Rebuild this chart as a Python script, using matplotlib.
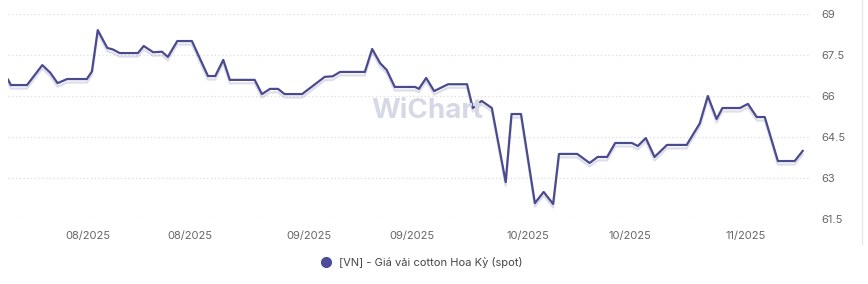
import matplotlib.pyplot as plt
import matplotlib.patheffects as pe
from matplotlib.lines import Line2D

# days since start of series (approx. 21/07/2025) and spot price
days = [0, 0.4, 2.6, 4.7, 5.8, 6.8, 8.1, 10.8, 11.5, 12.3, 13.6, 14.4, 15.3, 17.8,
        18.6, 19.9, 21.1, 21.9, 23.2, 25.2, 27.4, 28.4, 29.5, 30.4, 33.8, 34.8,
        35.9, 37.0, 37.9, 40.3, 43.4, 44.5, 45.5, 48.9, 49.9, 51.0, 51.9, 53.0,
        55.8, 56.3, 57.3, 58.4, 60.3, 62.9, 63.7, 64.9, 66.3, 68.2, 69.0, 70.3,
        72.2, 73.4, 74.7, 75.5, 78.0, 79.7, 80.8, 82.1, 83.2, 85.5, 86.3, 87.4,
        88.6, 90.3, 93.0, 94.8, 95.9, 97.1, 97.9, 100.3, 101.4, 102.6, 103.7,
        105.5, 107.8, 108.9]
price = [66.6, 66.4, 66.4, 67.13, 66.85, 66.47, 66.62, 66.62, 66.9, 68.41, 67.76,
         67.7, 67.57, 67.57, 67.83, 67.6, 67.62, 67.43, 68.01, 68.01, 66.73, 66.73,
         67.32, 66.59, 66.59, 66.07, 66.26, 66.26, 66.07, 66.07, 66.7, 66.72, 66.88,
         66.88, 67.72, 67.2, 66.95, 66.33, 66.33, 66.26, 66.66, 66.18, 66.43, 66.43,
         65.56, 65.82, 65.56, 62.85, 65.34, 65.34, 62.08, 62.49, 62.05, 63.88, 63.88,
         63.55, 63.77, 63.77, 64.28, 64.28, 64.17, 64.46, 63.77, 64.21, 64.21, 65.0,
         66.0, 65.16, 65.56, 65.56, 65.71, 65.23, 65.23, 63.62, 63.62, 63.99]

tick_days = [11.0, 24.9, 41.2, 55.3, 71.2, 85.2, 101.1]
tick_labels = ["08/2025", "08/2025", "09/2025", "09/2025", "10/2025", "10/2025", "11/2025"]
y_ticks = [61.5, 63, 64.5, 66, 67.5, 69]
series_name = "[VN] - Giá vải cotton Hoa Kỳ (spot)"

plt.rcParams['font.family'] = ['Inter', 'DejaVu Sans']
line_color = '#4a4a8e'

fig = plt.figure(figsize=(8.68, 2.84), dpi=100)
ax = fig.add_axes([8 / 868, 65 / 284, 802 / 868, 205 / 284])

ax.plot(days, price, color=line_color, lw=1.6, solid_joinstyle='round',
        path_effects=[pe.SimpleLineShadow(offset=(0, -2.5), shadow_color=line_color, alpha=0.18),
                      pe.Normal()], zorder=3)

ax.set_xlim(0, 109.9)
ax.set_ylim(61.5, 69)
ax.set_yticks(y_ticks)
ax.set_yticklabels([f"{v:g}" for v in y_ticks])
ax.yaxis.tick_right()
ax.set_xticks(tick_days)
ax.set_xticklabels(tick_labels)
ax.tick_params(axis='both', length=0, labelsize=8, colors='#666666')
ax.tick_params(axis='y', pad=8)
ax.tick_params(axis='x', pad=9)
for lbl in ax.get_yticklabels():
    lbl.set_horizontalalignment('left')
ax.grid(axis='y', color='#dcdcdc', linestyle=(0, (1, 2)), lw=0.9)
for s in ax.spines.values():
    s.set_visible(False)

# watermark
fig.text(0.492, 0.61, "WiChart", fontsize=20, fontweight='bold', color='#d6d8e8',
         ha='center', va='center', zorder=0)

# right border
fig.add_artist(Line2D([862 / 868, 862 / 868], [1, 40 / 284], color='#e6e6e6', lw=0.8))

handle = Line2D([], [], marker='o', ls='', color='#4b4b9a', markersize=7)
fig.legend([handle], [series_name], loc='center', bbox_to_anchor=(0.482, 0.077),
           frameon=False, fontsize=8, handletextpad=0.2, labelcolor='#444444')

fig.savefig("out.png", dpi=100)
